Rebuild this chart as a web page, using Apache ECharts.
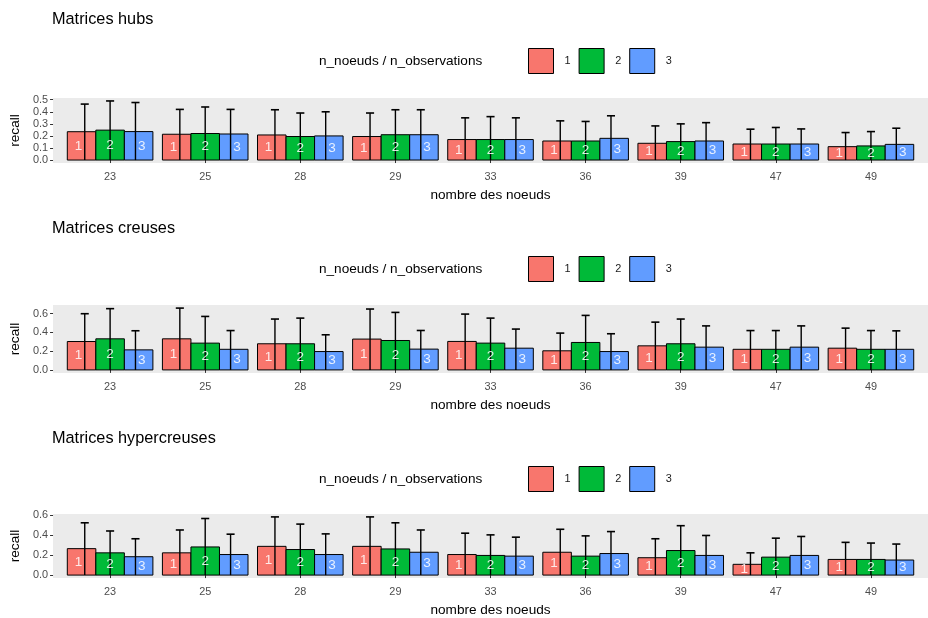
<!DOCTYPE html>
<html><head><meta charset="utf-8">
<script src="https://cdn.jsdelivr.net/npm/echarts@6/dist/echarts.min.js"></script>
<style>html,body{margin:0;padding:0;background:#fff}#c{width:928px;height:618px}</style>
</head><body><div id="c"></div>
<script>
const categories = ['23','25','28','29','33','36','39','47','49'];
const groupNames = ['1','2','3'];
const groupColors = ['#F8766D','#00BA38','#619CFF'];
const panelTitles = ['Matrices hubs','Matrices creuses','Matrices hypercreuses'];
const legendTitle = 'n_noeuds / n_observations';
const xTitle = 'nombre des noeuds';
const yTitle = 'recall';
const yTicksHubs = [0,0.1,0.2,0.3,0.4,0.5];
const yTicksCreuses = [0,0.2,0.4,0.6];
const yTicksHyper = [0,0.2,0.4,0.6];

// Matrices hubs: bar heights (mean) and error-bar tops
const hubsMean1 = [0.235,0.214,0.208,0.195,0.17,0.158,0.139,0.133,0.111];
const hubsMean2 = [0.248,0.22,0.195,0.21,0.17,0.158,0.153,0.133,0.117];
const hubsMean3 = [0.236,0.216,0.20,0.21,0.17,0.18,0.158,0.133,0.13];
const hubsTop1 = [0.464,0.42,0.417,0.39,0.35,0.325,0.283,0.256,0.228];
const hubsTop2 = [0.49,0.44,0.39,0.417,0.36,0.32,0.30,0.27,0.236];
const hubsTop3 = [0.477,0.42,0.40,0.417,0.35,0.367,0.31,0.258,0.264];
// Matrices creuses
const creusesMean1 = [0.303,0.332,0.279,0.329,0.304,0.204,0.257,0.22,0.232];
const creusesMean2 = [0.332,0.286,0.279,0.314,0.286,0.293,0.279,0.22,0.22];
const creusesMean3 = [0.214,0.22,0.196,0.222,0.232,0.196,0.243,0.243,0.22];
const creusesTop1 = [0.60,0.66,0.543,0.65,0.596,0.393,0.51,0.42,0.446];
const creusesTop2 = [0.654,0.571,0.553,0.614,0.553,0.582,0.543,0.42,0.42];
const creusesTop3 = [0.418,0.42,0.375,0.421,0.436,0.386,0.47,0.47,0.417];
// Matrices hypercreuses
const hyperMean1 = [0.265,0.223,0.288,0.288,0.206,0.229,0.174,0.108,0.157];
const hyperMean2 = [0.223,0.282,0.256,0.262,0.197,0.19,0.246,0.18,0.157];
const hyperMean3 = [0.184,0.206,0.206,0.229,0.19,0.216,0.197,0.197,0.151];
const hyperTop1 = [0.524,0.452,0.583,0.583,0.42,0.459,0.364,0.223,0.328];
const hyperTop2 = [0.442,0.567,0.511,0.524,0.403,0.393,0.495,0.37,0.321];
const hyperTop3 = [0.364,0.41,0.413,0.452,0.38,0.436,0.397,0.387,0.311];

const panelsData = [
  {means:[hubsMean1,hubsMean2,hubsMean3], tops:[hubsTop1,hubsTop2,hubsTop3], ticks:yTicksHubs},
  {means:[creusesMean1,creusesMean2,creusesMean3], tops:[creusesTop1,creusesTop2,creusesTop3], ticks:yTicksCreuses},
  {means:[hyperMean1,hyperMean2,hyperMean3], tops:[hyperTop1,hyperTop2,hyperTop3], ticks:yTicksHyper}
];
// layout (pixels)
const layout = [
  {gridTop:98, gridH:65, titleTop:7, legendTop:48, legTitleTop:49},
  {gridTop:305, gridH:68, titleTop:216, legendTop:256, legTitleTop:257},
  {gridTop:514, gridH:65, titleTop:426, legendTop:466, legTitleTop:467}
];

const FONT = 'Liberation Sans';
const barW = 0.3, barDodge = 0.3, errDodge = 0.2667, labDodge = 0.3333, capW = 0.085;

const option = {
  animation:false,
  backgroundColor:'#fff',
  title:[], legend:[], grid:[], xAxis:[], yAxis:[], series:[]
};

panelsData.forEach((pd, p) => {
  const L = layout[p];
  const maxTop = Math.max(...pd.tops.flat());
  option.title.push({text:panelTitles[p], left:47, top:L.titleTop,
    textStyle:{fontFamily:FONT, fontSize:16.3, fontWeight:'normal', color:'#000'}});
  option.title.push({text:legendTitle, left:314, top:L.legTitleTop,
    textStyle:{fontFamily:FONT, fontSize:13.6, fontWeight:'normal', color:'#000'}});
  option.legend.push({data:groupNames, left:528, top:L.legendTop, itemWidth:25, itemHeight:25,
    itemGap:8, icon:'rect', selectedMode:false, padding:0,
    itemStyle:{borderColor:'#000', borderWidth:1},
    formatter:n => '  ' + n,
    textStyle:{fontFamily:FONT, fontSize:10.9, color:'#1a1a1a'}});
  option.grid.push({left:52, top:L.gridTop, width:885, height:L.gridH, show:true,
    backgroundColor:'#EBEBEB', borderWidth:0, containLabel:false});
  option.xAxis.push({type:'value', gridIndex:p, min:0.4, max:9.6,
    name:xTitle, nameLocation:'middle', nameGap:25,
    nameTextStyle:{fontFamily:FONT, fontSize:13.6, color:'#000'},
    axisLine:{show:false}, splitLine:{show:false},
    axisTick:{show:true, length:3, lineStyle:{color:'#333', width:1}, customValues:[1,2,3,4,5,6,7,8,9]},
    axisLabel:{customValues:[1,2,3,4,5,6,7,8,9], margin:8, fontFamily:FONT, fontSize:10.9, color:'#4D4D4D',
      formatter:v => categories[Math.round(v)-1]}});
  option.yAxis.push({type:'value', gridIndex:p, min:-0.05*maxTop, max:1.05*maxTop,
    name:yTitle, nameLocation:'middle', nameGap:29,
    nameTextStyle:{fontFamily:FONT, fontSize:13.6, color:'#000'},
    axisLine:{show:false}, splitLine:{show:false},
    axisTick:{show:true, length:3, lineStyle:{color:'#333', width:1}, customValues:pd.ticks},
    axisLabel:{customValues:pd.ticks, margin:5, fontFamily:FONT, fontSize:10.9, color:'#4D4D4D',
      formatter:v => v.toFixed(1)}});
  // bars
  for (let k = 0; k < 3; k++) {
    const off = (k-1)*barDodge;
    option.series.push({
      type:'custom', name:groupNames[k], xAxisIndex:p, yAxisIndex:p, z:2,
      itemStyle:{color:groupColors[k], borderColor:'#000', borderWidth:1},
      encode:{x:0, y:1},
      data:pd.means[k].map((m,i) => [i+1, m]),
      renderItem:(params, api) => {
        const x = api.value(0) + off, v = api.value(1);
        const a = api.coord([x - barW/2, v]), b = api.coord([x + barW/2, 0]);
        return {type:'rect', shape:{x:a[0], y:a[1], width:b[0]-a[0], height:b[1]-a[1]},
          style:{fill:groupColors[k], stroke:'#000', lineWidth:1}};
      }
    });
  }
  // error bars
  const errData = [];
  for (let k = 0; k < 3; k++) pd.tops[k].forEach((t,i) => errData.push([i+1, t, k]));
  option.series.push({
    type:'custom', name:'err'+p, xAxisIndex:p, yAxisIndex:p, z:3, encode:{x:0, y:1},
    data:errData,
    renderItem:(params, api) => {
      const x = api.value(0) + (api.value(2)-1)*errDodge, t = api.value(1);
      const top = api.coord([x, t]), bot = api.coord([x, 0]);
      const cl = api.coord([x - capW/2, t]), cr = api.coord([x + capW/2, t]);
      return {type:'group', children:[
        {type:'line', shape:{x1:top[0], y1:top[1], x2:bot[0], y2:bot[1]}, style:{stroke:'#000', lineWidth:1.4}},
        {type:'line', shape:{x1:cl[0], y1:cl[1], x2:cr[0], y2:cr[1]}, style:{stroke:'#000', lineWidth:1.6}}
      ]};
    }
  });
  // labels inside bars
  const labData = [];
  for (let k = 0; k < 3; k++) pd.means[k].forEach((m,i) => labData.push([i+1, m/2, k]));
  option.series.push({
    type:'custom', name:'lab'+p, xAxisIndex:p, yAxisIndex:p, z:4, encode:{x:0, y:1},
    data:labData, silent:true,
    renderItem:(params, api) => {
      const k = api.value(2);
      const pt = api.coord([api.value(0) + (k-1)*labDodge, api.value(1)]);
      return {type:'text', x:pt[0], y:pt[1], style:{text:groupNames[k], fill:'rgba(255,255,255,0.85)',
        font:'13.5px "Liberation Sans"', align:'center', verticalAlign:'middle'}};
    }
  });
});

const chart = echarts.init(document.getElementById('c'), null, {renderer:'canvas'});
chart.setOption(option);
</script></body></html>
